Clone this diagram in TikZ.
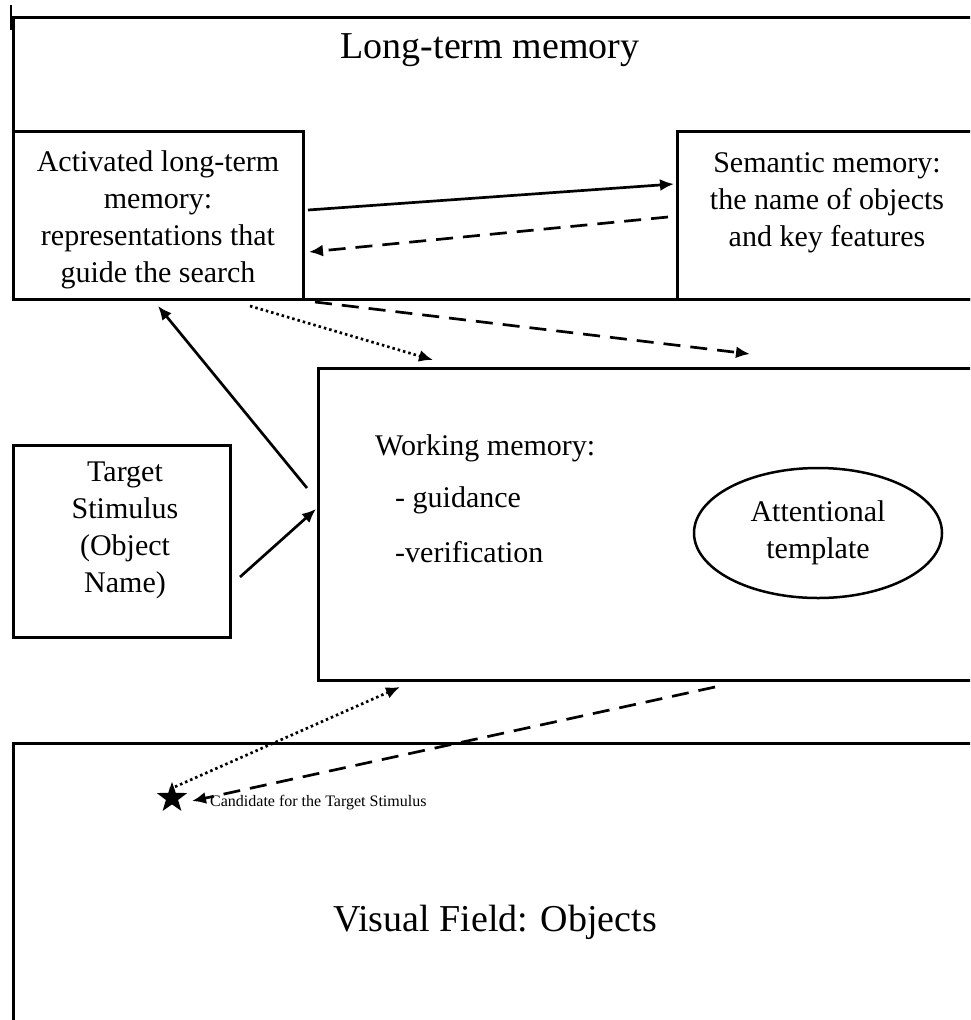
\documentclass[tikz,border=0pt]{standalone}
\usepackage{fontspec}
\setmainfont{Liberation Serif}
\usetikzlibrary{arrows.meta,shapes.geometric}
\begin{document}
\begin{tikzpicture}[x=1pt,y=-1pt,
  frame/.style={line width=3pt},
  txt/.style={font=\fontsize{30}{37}\selectfont, align=center, inner sep=0pt},
  big/.style={font=\fontsize{38}{44}\selectfont, inner sep=0pt},
  small/.style={font=\fontsize{16}{19}\selectfont, inner sep=0pt},
  conn/.style={line width=2.7pt, -{Latex[length=14pt,width=12pt]}},
  dsh/.style={conn, dash pattern=on 17pt off 10pt},
  dot/.style={conn, dash pattern=on 2.5pt off 3pt},
]
\useasboundingbox (0,0) rectangle (970,1020);
\clip (0,0) rectangle (970,1020);

% Long-term memory
\draw[frame] (13,17) rectangle (1000,299);
\draw[line width=2pt] (11,5) -- (11,30);
\node[big] (ltm) at (490,50) {Long-term memory};

\draw[frame] (13,131) rectangle (303,299);
\node[txt] (act) at (158,220)
  {Activated long-term\\memory:\\representations that\\guide the search};

\draw[frame] (677,131) rectangle (1000,299);
\node[txt] (sem) at (827,203) {Semantic memory:\\the name of objects\\and key features};

% Working memory
\draw[frame] (318,368) rectangle (1000,680);
\node[txt, anchor=west] (wm) at (375,448) {Working memory:};
\node[txt, anchor=west] (gui) at (395,500) {- guidance};
\node[txt, anchor=west] (ver) at (395,552) {-verification};
\node[draw, ellipse, line width=2.5pt, minimum width=248pt, minimum height=130pt, txt] (att) at (818,533)
  {Attentional\\template};

% Target stimulus
\node[draw, frame, minimum width=217pt, minimum height=192pt, inner sep=0pt] (tgtbox) at (121.5,541) {};
\node[txt] (tgt) at (125,530) {Target\\Stimulus\\(Object\\Name)};

% Visual field
\draw[frame] (13,743) rectangle (1000,1040);
\node[star, star points=5, star point ratio=2.5, fill=black, minimum size=32pt, inner sep=0pt] (star) at (172,798) {};
\node[small, anchor=west] (cand) at (210,803) {Candidate for the Target Stimulus};
\node[big] (vf) at (495,922) {Visual Field: Objects};

% connector end points
\coordinate (c1s) at (308,210); \coordinate (c1e) at (674,184);
\coordinate (c2s) at (668,217); \coordinate (c2e) at (309,252);
\coordinate (c3s) at (250,306); \coordinate (c3e) at (433,360);
\coordinate (c4s) at (315,302); \coordinate (c4e) at (750,354);
\coordinate (c5s) at (307,488); \coordinate (c5e) at (158,306);
\coordinate (c6s) at (240,577); \coordinate (c6e) at (316,509);
\coordinate (c7s) at (170,789); \coordinate (c7e) at (400,687);
\coordinate (c8s) at (715,687); \coordinate (c8e) at (192,801);

\draw[conn] (c1s) -- (c1e);
\draw[dsh] (c2s) -- (c2e);
\draw[dot] (c3s) -- (c3e);
\draw[dsh] (c4s) -- (c4e);
\draw[conn] (c5s) -- (c5e);
\draw[conn] (c6s) -- (c6e);
\draw[dot] (c7s) -- (c7e);
\draw[dsh] (c8s) -- (c8e);
\end{tikzpicture}
\end{document}
